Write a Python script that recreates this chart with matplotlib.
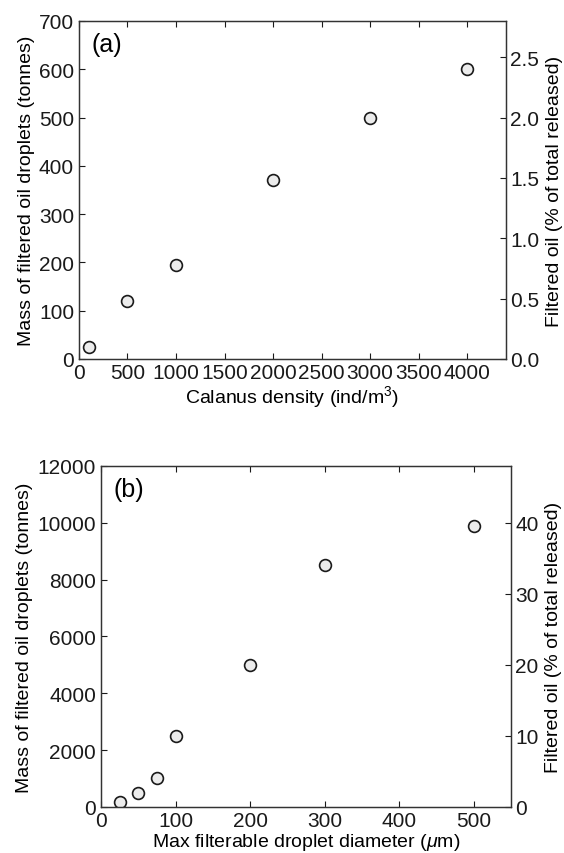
import numpy as np
import matplotlib.pyplot as plt

plt.rcParams['font.family'] = ['Liberation Sans', 'DejaVu Sans']
plt.rcParams['mathtext.fontset'] = 'custom'
plt.rcParams['mathtext.rm'] = 'Liberation Sans'
plt.rcParams['mathtext.it'] = 'Liberation Sans:italic'
plt.rcParams['font.size'] = 14

FS = 14      # axis labels
TICK_FS = 15  # tick labels

# total oil released (tonnes), used for the percentage axis
TOTAL_RELEASED = 25000

# (a) filtered mass vs copepod density
density = [100, 500, 1000, 2000, 3000, 4000]
mass_density = [25, 120, 195, 370, 500, 600]

# (b) filtered mass vs max filterable droplet size
diameter = [25, 50, 75, 100, 200, 300, 500]
mass_diameter = [190, 480, 1030, 2480, 5000, 8500, 9880]

MARKER = dict(linestyle='none', marker='o', markersize=8.5,
              markerfacecolor='#ececec', markeredgecolor='#1a1a1a',
              markeredgewidth=1.2)


def style_spines(ax):
    for s in ax.spines.values():
        s.set_linewidth(0.9)
        s.set_color('#333333')


def panel(fig, rect, x, y, xlim, ylim, xticks, yticks, pticks, xlabel, tag):
    ax = fig.add_axes(rect)
    ax.plot(x, y, **MARKER)
    ax.set_xlim(*xlim)
    ax.set_ylim(*ylim)
    ax.set_xticks(xticks)
    ax.set_yticks(yticks)
    ax.set_xlabel(xlabel, fontsize=FS, labelpad=0.5)
    ax.set_ylabel('Mass of filtered oil droplets (tonnes)', fontsize=FS,
                  labelpad=3)
    ax.text(0.03, 0.968, tag, transform=ax.transAxes, fontsize=18,
            ha='left', va='top')
    ax.tick_params(axis='y', pad=3.5)
    ax.tick_params(axis='x', pad=3)
    ax.tick_params(direction='in', length=4, width=0.8, top=True,
                   right=False, labelsize=TICK_FS, colors='#1a1a1a')
    style_spines(ax)

    # percentage of total released on the right
    ax2 = ax.twinx()
    ax2.set_ylim(ylim[0] / TOTAL_RELEASED * 100, ylim[1] / TOTAL_RELEASED * 100)
    ax2.set_yticks(pticks)
    ax2.set_ylabel('Filtered oil (% of total released)', fontsize=FS,
                   labelpad=5)
    ax2.tick_params(direction='in', length=4, width=0.8, labelsize=TICK_FS,
                    pad=3, colors='#1a1a1a')
    style_spines(ax2)
    return ax, ax2


fig = plt.figure(figsize=(5.64, 8.54), dpi=100)

panel(fig, [0.140, 0.5785, 0.757, 0.3958], density, mass_density,
      (0, 4400), (0, 700), np.arange(0, 4001, 500), np.arange(0, 701, 100),
      [0.0, 0.5, 1.0, 1.5, 2.0, 2.5], 'Calanus density (ind/m$^3$)', '(a)')

panel(fig, [0.179, 0.0539, 0.727, 0.3993], diameter, mass_diameter,
      (0, 550), (0, 12000), np.arange(0, 501, 100), np.arange(0, 12001, 2000),
      [0, 10, 20, 30, 40], r'Max filterable droplet diameter ($\mu$m)', '(b)')

fig.savefig('out.png', dpi=100)
